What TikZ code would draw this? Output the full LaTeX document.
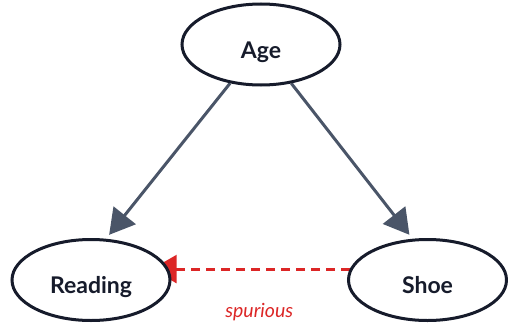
\documentclass[tikz,border=0pt]{standalone}
\usepackage{fontspec}
\setmainfont{Lato}
\usetikzlibrary{shapes.geometric,arrows.meta,backgrounds}
\definecolor{ink}{HTML}{161B2B}
\definecolor{slate}{HTML}{4A5568}
\definecolor{spurred}{HTML}{DC2626}
\begin{document}
\begin{tikzpicture}[
    x=1pt, y=1pt,
    var/.style={ellipse, draw=ink, fill=white, line width=3pt, inner sep=0pt,
                minimum width=158pt, minimum height=81pt, text=ink,
                font=\fontsize{23}{27}\selectfont\bfseries,
                text height=27pt, text depth=0pt},
    arr/.style={-{Triangle[length=25pt, width=28pt]}, line width=3pt, draw=slate, shorten >=5pt},
    spur/.style={-{Triangle[length=25pt, width=28pt]}, line width=3pt, draw=spurred,
                 dash pattern=on 9pt off 6pt},
  ]
  \useasboundingbox (0,0) rectangle (508,325);
  \node[var] (age)     at (261,280.5) {Age};
  \node[var] (reading) at (91,45)     {Reading};
  \node[var] (shoe)    at (427.5,45)  {Shoe};
  \begin{pgfonlayer}{background}
    \draw[arr] (age) -- (reading.70);
    \draw[arr] (age) -- (shoe.110);
    % spurious link, its tip tucked under the Reading node
    \draw[spur, shorten >=-17pt] (shoe.172) -- node[midway, anchor=base, yshift=-48pt, text=spurred,
      font=\fontsize{19.5}{23}\selectfont\itshape] (spurlbl) {spurious} (reading.8);
  \end{pgfonlayer}
\end{tikzpicture}
\end{document}
